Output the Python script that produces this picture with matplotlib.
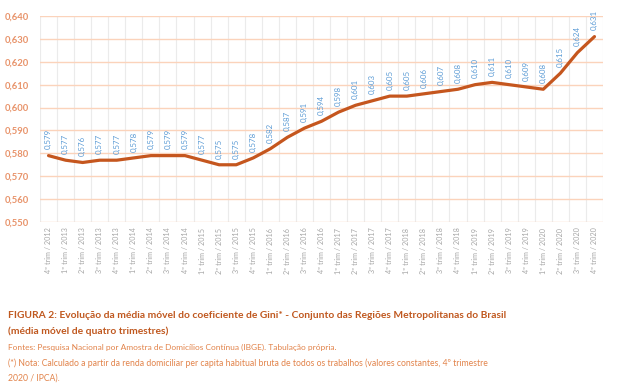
import matplotlib
matplotlib.use("Agg")
import matplotlib.pyplot as plt
from matplotlib.ticker import FixedLocator, FuncFormatter

plt.rcParams['font.family'] = ['Lato', 'DejaVu Sans']

quarters = [
    "4º trim / 2012",
    "1º trim / 2013", "2º trim / 2013", "3º trim / 2013", "4º trim / 2013",
    "1º trim / 2014", "2º trim / 2014", "3º trim / 2014", "4º trim / 2014",
    "1º trim / 2015", "2º trim / 2015", "3º trim / 2015", "4º trim / 2015",
    "1º trim / 2016", "2º trim / 2016", "3º trim / 2016", "4º trim / 2016",
    "1º trim / 2017", "2º trim / 2017", "3º trim / 2017", "4º trim / 2017",
    "1º trim / 2018", "2º trim / 2018", "3º trim / 2018", "4º trim / 2018",
    "1º trim / 2019", "2º trim / 2019", "3º trim / 2019", "4º trim / 2019",
    "1º trim / 2020", "2º trim / 2020", "3º trim / 2020", "4º trim / 2020",
]
gini = [
    0.579,
    0.577, 0.576, 0.577, 0.577,
    0.578, 0.579, 0.579, 0.579,
    0.577, 0.575, 0.575, 0.578,
    0.582, 0.587, 0.591, 0.594,
    0.598, 0.601, 0.603, 0.605,
    0.605, 0.606, 0.607, 0.608,
    0.610, 0.611, 0.610, 0.609,
    0.608, 0.615, 0.624, 0.631,
]
y_ticks = [0.550, 0.560, 0.570, 0.580, 0.590, 0.600, 0.610, 0.620, 0.630, 0.640]

line_col = '#c5561e'
label_col = '#5b9bd5'
axis_col = '#e8936a'
title_col = '#c0581f'
note_col = '#e2834a'

fig = plt.figure(figsize=(6.3, 3.92), dpi=100)
ax = fig.add_axes([40 / 630, 1 - 222 / 392, 563 / 630, 206 / 392])

x = list(range(len(gini)))
ax.plot(x, gini, color=line_col, linewidth=2.3, solid_capstyle='round',
        solid_joinstyle='round', zorder=3)

# value labels above each point
for xi, v in zip(x, gini):
    ax.annotate(f"{v:.3f}".replace('.', ','), (xi, v), xytext=(0, 4.5),
                textcoords='offset points', rotation=90, ha='center', va='bottom',
                fontsize=5.7, color=label_col)

ax.set_xlim(-0.5, len(gini) - 0.5)
ax.set_ylim(0.550, 0.640)
ax.set_yticks(y_ticks)
ax.yaxis.set_major_formatter(FuncFormatter(lambda v, p: f"{v:.3f}".replace('.', ',')))
ax.set_xticks(x)
ax.set_xticklabels(quarters, rotation=90, fontsize=5.2, color='#a6a6a6')
ax.xaxis.set_minor_locator(FixedLocator([i - 0.5 for i in range(len(gini) + 1)]))

ax.tick_params(axis='y', length=0, pad=8, labelsize=6.8, labelcolor=axis_col)
ax.tick_params(axis='x', which='both', length=0, pad=4)
ax.grid(True, axis='y', which='major', color='#fbd3bb', linewidth=1.0, zorder=0)
ax.grid(True, axis='x', which='minor', color='#ebebeb', linewidth=0.8, zorder=0)
for lbl in ax.get_yticklabels():
    lbl.set_fontweight('bold')
for s in ax.spines.values():
    s.set_visible(False)

fig.text(8 / 630, 1 - 315 / 392,
         "FIGURA 2: Evolução da média móvel do coeficiente de Gini* - Conjunto das Regiões Metropolitanas do Brasil",
         fontsize=7.4, fontweight='bold', color=title_col, va='center')
fig.text(8 / 630, 1 - 331 / 392, "(média móvel de quatro trimestres)",
         fontsize=7.4, fontweight='bold', color=title_col, va='center')
fig.text(8 / 630, 1 - 347 / 392,
         "Fontes: Pesquisa Nacional por Amostra de Domicílios Contínua (IBGE). Tabulação própria.",
         fontsize=6.0, color=note_col, va='center')
fig.text(8 / 630, 1 - 363 / 392,
         "(*) Nota: Calculado a partir da renda domiciliar per capita habitual bruta de todos os trabalhos (valores constantes, 4º trimestre",
         fontsize=6.2, color=note_col, va='center')
fig.text(8 / 630, 1 - 378 / 392, "2020 / IPCA).",
         fontsize=6.2, color=note_col, va='center')

fig.savefig("out.png", dpi=100)
